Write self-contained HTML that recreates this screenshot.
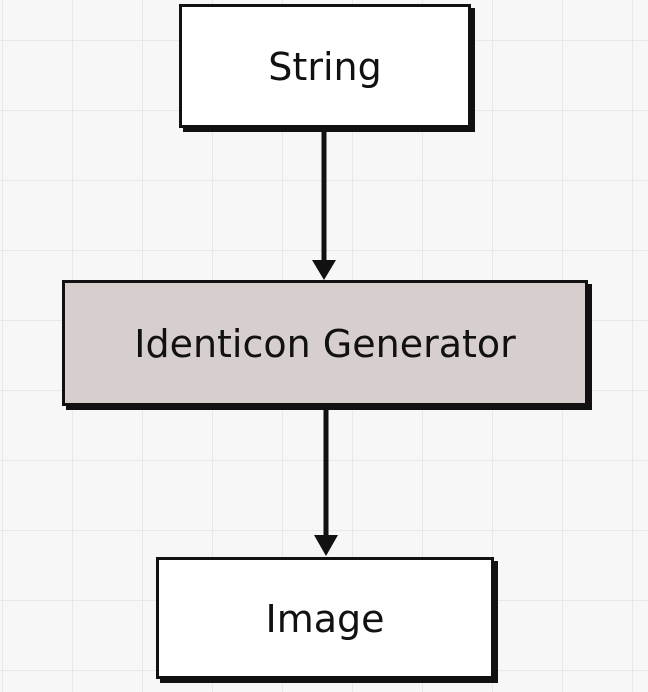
<!DOCTYPE html>
<html><head><style>
html,body{margin:0;padding:0}
body{width:648px;height:692px;overflow:hidden;background:#f7f7f7;
background-image:linear-gradient(to right,#e8e8e8 1px,transparent 1px),linear-gradient(to bottom,#e8e8e8 1px,transparent 1px);
background-size:70px 70px;background-position:2px 40px;position:relative;font-family:"DejaVu Sans","Liberation Sans",sans-serif}
.b{position:absolute;box-sizing:border-box;border:3px solid #111;background:#fff;display:flex;align-items:center;justify-content:center;color:#111;box-shadow:4px 4px 0 #111;font-size:38px;padding-top:2px}
</style></head><body>
<svg width="648" height="692" style="position:absolute;left:0;top:0">
<line x1="324" y1="130" x2="324" y2="265" stroke="#111" stroke-width="5"/>
<polygon points="312,260 336,260 324,280" fill="#111"/>
<line x1="326" y1="408" x2="326" y2="540" stroke="#111" stroke-width="5"/>
<polygon points="314,535 338,535 326,556" fill="#111"/>
</svg>
<div class="b" style="left:179px;top:4px;width:292px;height:124px">String</div>
<div class="b" style="left:62px;top:280px;width:526px;height:126px;background:#d6cfcd">Identicon Generator</div>
<div class="b" style="left:156px;top:557px;width:338px;height:122px">Image</div>
</body></html>
